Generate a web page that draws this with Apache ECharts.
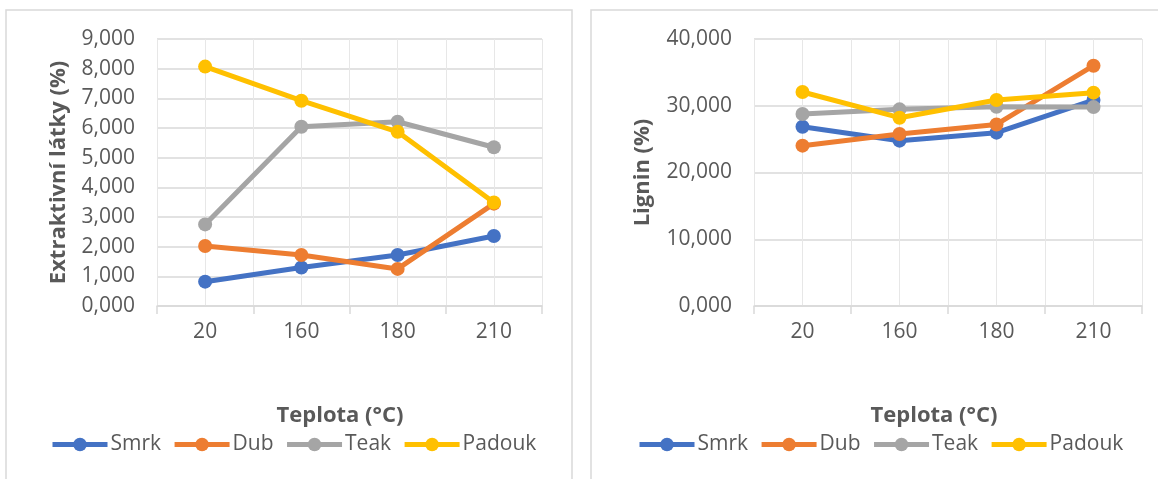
<!DOCTYPE html>
<html>
<head>
<meta charset="utf-8">
<script src="https://cdn.jsdelivr.net/npm/echarts@6/dist/echarts.min.js"></script>
<style>
html,body{margin:0;padding:0;background:#fff;}
#c{width:1158px;height:479px;}
</style>
</head>
<body>
<div id="c"></div>
<script>
const categories = ['20', '160', '180', '210'];
const seriesNames = ['Smrk', 'Dub', 'Teak', 'Padouk'];
const colors = ['#4472C4', '#ED7D31', '#A5A5A5', '#FFC000'];

// Left chart: Extraktivní látky (%)
const extSmrk   = [0.82, 1.30, 1.72, 2.36];
const extDub    = [2.02, 1.72, 1.25, 3.45];
const extTeak   = [2.75, 6.04, 6.21, 5.35];
const extPadouk = [8.07, 6.92, 5.87, 3.49];

// Right chart: Lignin (%)
const ligSmrk   = [26.86, 24.77, 25.97, 30.86];
const ligDub    = [24.02, 25.77, 27.20, 36.00];
const ligTeak   = [28.76, 29.46, 29.86, 29.80];
const ligPadouk = [32.06, 28.21, 30.86, 31.96];

const leftTicks = {min: 0, max: 9, interval: 1};
const rightTicks = {min: 0, max: 40, interval: 10};

const FONT = 'Open Sans';
const TXT = '#595959';
const fmt = v => v.toFixed(3).replace('.', ',');

function catAxis(gridIndex) {
  return {
    type: 'category', gridIndex, data: categories, boundaryGap: true,
    name: 'Teplota (°C)', nameLocation: 'middle', nameGap: 99,
    nameTextStyle: {fontFamily: FONT, fontSize: 22, fontWeight: 'bold', color: TXT, padding: [0, gridIndex === 0 ? 19 : 28, 0, 0]},
    axisLine: {show: true, lineStyle: {color: '#d9d9d9', width: 1.5}},
    axisTick: {show: true, length: 8, lineStyle: {color: '#d9d9d9', width: 1.5}},
    axisLabel: {fontFamily: FONT, fontSize: 21, color: TXT, margin: 16},
    splitLine: {show: true, lineStyle: {color: '#e7e7e7', width: 1}}
  };
}
function centerAxis(gridIndex) {
  return {
    type: 'category', gridIndex, data: categories, boundaryGap: true, position: 'bottom',
    axisLine: {show: false}, axisTick: {show: false, alignWithLabel: true}, axisLabel: {show: false},
    splitLine: {show: true, alignWithLabel: true, lineStyle: {color: '#e7e7e7', width: 1}}
  };
}
function valAxis(gridIndex, ticks, name, gap) {
  return {
    type: 'value', gridIndex, min: ticks.min, max: ticks.max, interval: ticks.interval,
    name, nameLocation: 'middle', nameGap: gap,
    nameTextStyle: {fontFamily: FONT, fontSize: 22, fontWeight: 'bold', color: TXT},
    axisLine: {show: false}, axisTick: {show: false},
    axisLabel: {fontFamily: FONT, fontSize: 21, color: TXT, margin: 22, formatter: fmt},
    splitLine: {show: true, lineStyle: {color: '#d9d9d9', width: 1.5}}
  };
}
function mk(name, idx, data, xi, yi) {
  return {
    type: 'line', name, data, xAxisIndex: xi, yAxisIndex: yi,
    color: colors[idx], symbol: 'circle', symbolSize: 14,
    lineStyle: {width: 5, color: colors[idx]},
    itemStyle: {color: colors[idx]},
    emphasis: {disabled: true}, animation: false
  };
}
function legend(left) {
  return {
    data: seriesNames, left, top: 434, padding: 0, itemWidth: 55, itemHeight: 17, itemGap: 11,
    textStyle: {fontFamily: FONT, fontSize: 21, color: TXT, padding: [0, 0, 0, -2]},
    lineStyle: {width: 5}
  };
}

const chart = echarts.init(document.getElementById('c'), null, {renderer: 'canvas'});
chart.setOption({
  animation: false,
  backgroundColor: '#ffffff',
  graphic: [
    {type: 'rect', shape: {x: 6, y: 10, width: 566, height: 480}, style: {fill: 'none', stroke: '#d9d9d9', lineWidth: 1.5}, silent: true},
    {type: 'rect', shape: {x: 591, y: 10, width: 580, height: 480}, style: {fill: 'none', stroke: '#d9d9d9', lineWidth: 1.5}, silent: true}
  ],
  grid: [
    {left: 157, right: 616, top: 39, bottom: 173},
    {left: 754, right: 16, top: 39, bottom: 173}
  ],
  xAxis: [catAxis(0), centerAxis(0), catAxis(1), centerAxis(1)],
  yAxis: [
    valAxis(0, leftTicks, 'Extraktivní látky (%)', 87),
    valAxis(1, rightTicks, 'Lignin (%)', 100)
  ],
  legend: [legend(50), legend(637)],
  series: [
    mk('Smrk', 0, extSmrk, 0, 0),
    mk('Dub', 1, extDub, 0, 0),
    mk('Teak', 2, extTeak, 0, 0),
    mk('Padouk', 3, extPadouk, 0, 0),
    mk('Smrk', 0, ligSmrk, 2, 1),
    mk('Dub', 1, ligDub, 2, 1),
    mk('Teak', 2, ligTeak, 2, 1),
    mk('Padouk', 3, ligPadouk, 2, 1)
  ]
});
</script>
</body>
</html>
